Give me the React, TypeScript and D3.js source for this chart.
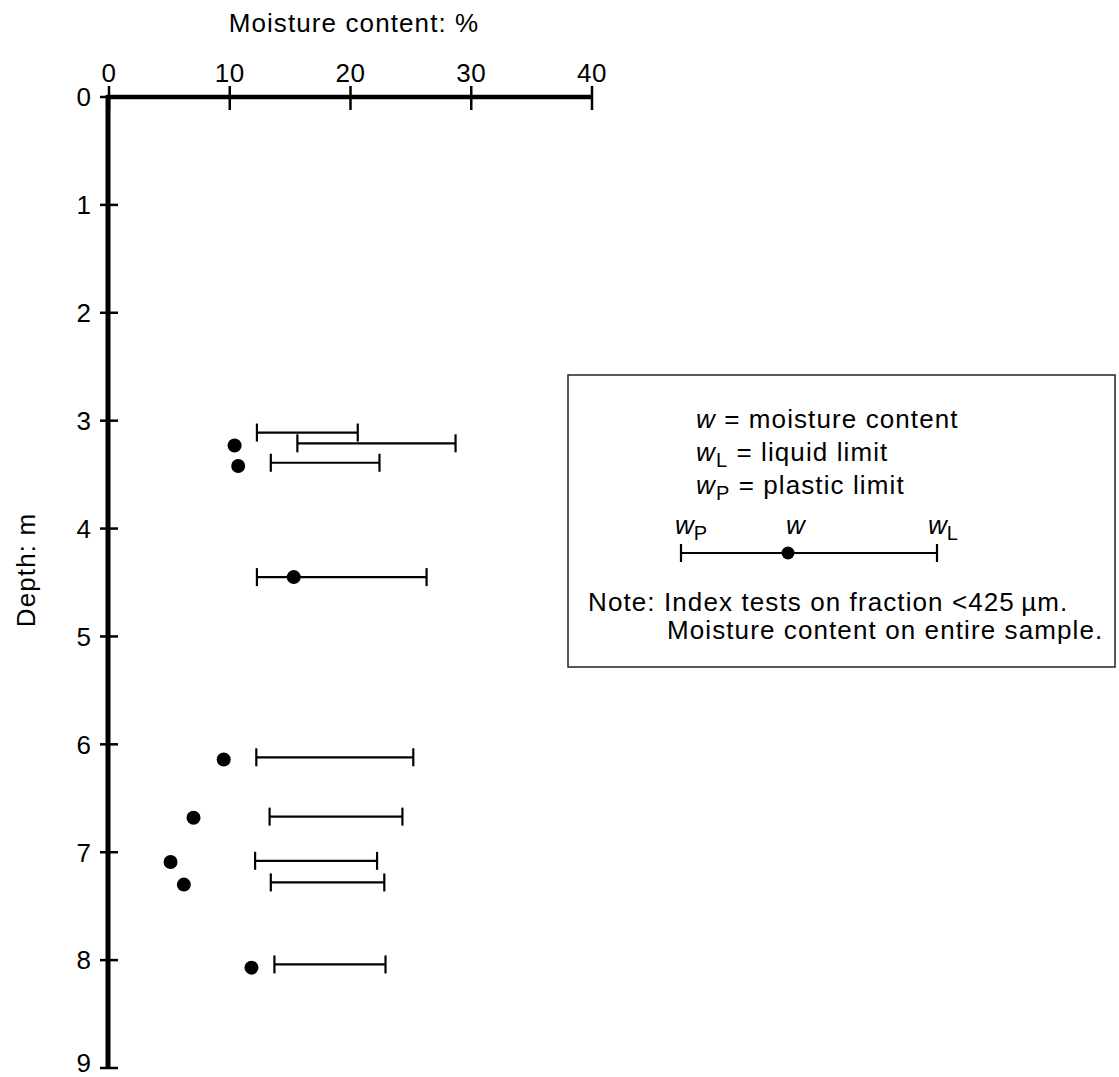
import React, { useEffect, useRef } from 'react';
import * as d3 from 'd3';

// axis ticks
const moistureTicks = [0, 10, 20, 30, 40];
const depthTicks = [0, 1, 2, 3, 4, 5, 6, 7, 8, 9];

// moisture content w (%) at sample depths (m)
const sampleDepths = [3.23, 3.42, 4.45, 6.14, 6.68, 7.09, 7.30, 8.07];
const moistureContent = [10.4, 10.7, 15.3, 9.5, 7.0, 5.1, 6.2, 11.8];

// plastic limit wP and liquid limit wL (%) at test depths (m)
const limitDepths = [3.11, 3.21, 3.39, 4.45, 6.12, 6.67, 7.08, 7.28, 8.04];
const plasticLimit = [12.25, 15.6, 13.4, 12.25, 12.2, 13.3, 12.1, 13.4, 13.7];
const liquidLimit = [20.6, 28.7, 22.4, 26.3, 25.2, 24.3, 22.2, 22.8, 22.9];

const FONT = '"Liberation Sans", Arial, Helvetica, sans-serif';

export default function App() {
  const ref = useRef<SVGSVGElement>(null);

  useEffect(() => {
    const svg = d3.select(ref.current);
    svg.selectAll('*').remove();

    const x = d3.scaleLinear().domain([0, 40]).range([109, 592]);
    const y = d3.scaleLinear().domain([0, 9]).range([97, 1068]);

    const g = svg.append('g').attr('font-family', FONT).attr('fill', '#000');

    // title on top
    g.append('text')
      .attr('x', 354).attr('y', 32)
      .attr('text-anchor', 'middle')
      .attr('font-size', 26).attr('letter-spacing', 1.1)
      .text('Moisture content: %');

    // y label
    g.append('text')
      .attr('transform', 'translate(35,570) rotate(-90)')
      .attr('text-anchor', 'middle')
      .attr('font-size', 26).attr('letter-spacing', 1.1)
      .text('Depth: m');

    // top axis (moisture)
    g.append('line')
      .attr('x1', x(0) - 2).attr('x2', x(40) + 1)
      .attr('y1', y(0)).attr('y2', y(0))
      .attr('stroke', '#000').attr('stroke-width', 4.5);
    g.selectAll('.xtick').data(moistureTicks).join('line')
      .attr('class', 'xtick')
      .attr('x1', d => x(d)).attr('x2', d => x(d))
      .attr('y1', y(0) - 11).attr('y2', y(0) + 13)
      .attr('stroke', '#000').attr('stroke-width', 2.5);
    g.selectAll('.xlab').data(moistureTicks).join('text')
      .attr('class', 'xlab')
      .attr('x', d => x(d)).attr('y', 82)
      .attr('text-anchor', 'middle')
      .attr('font-size', 26).attr('letter-spacing', 0.6)
      .text(d => d);

    // left axis (depth)
    g.append('line')
      .attr('x1', x(0) - 1).attr('x2', x(0) - 1)
      .attr('y1', y(0) - 2).attr('y2', y(9))
      .attr('stroke', '#000').attr('stroke-width', 5);
    g.selectAll('.ytick').data(depthTicks).join('line')
      .attr('class', 'ytick')
      .attr('x1', x(0) - 9).attr('x2', x(0) + 9)
      .attr('y1', d => y(d)).attr('y2', d => y(d))
      .attr('stroke', '#000').attr('stroke-width', 2.5);
    g.selectAll('.ylab').data(depthTicks).join('text')
      .attr('class', 'ylab')
      .attr('x', 91).attr('y', d => y(d) - (d === 9 ? 5 : 0))
      .attr('dy', '0.36em')
      .attr('text-anchor', 'end')
      .attr('font-size', 26)
      .text(d => d);

    // limit ranges wP - wL
    const limits = limitDepths.map((d, i) => ({ d, wp: plasticLimit[i], wl: liquidLimit[i] }));
    const bars = g.selectAll('.limit').data(limits).join('g').attr('class', 'limit')
      .attr('stroke', '#000').attr('stroke-width', 2.2);
    bars.append('line')
      .attr('x1', d => x(d.wp)).attr('x2', d => x(d.wl))
      .attr('y1', d => y(d.d)).attr('y2', d => y(d.d));
    bars.append('line')
      .attr('x1', d => x(d.wp)).attr('x2', d => x(d.wp))
      .attr('y1', d => y(d.d) - 9).attr('y2', d => y(d.d) + 9);
    bars.append('line')
      .attr('x1', d => x(d.wl)).attr('x2', d => x(d.wl))
      .attr('y1', d => y(d.d) - 9).attr('y2', d => y(d.d) + 9);

    // moisture content dots
    g.selectAll('.dot').data(sampleDepths).join('circle')
      .attr('class', 'dot')
      .attr('cx', (d, i) => x(moistureContent[i]))
      .attr('cy', d => y(d))
      .attr('r', 7)
      .attr('fill', '#000');

    // key box
    const key = g.append('g');
    key.append('rect')
      .attr('x', 568).attr('y', 375).attr('width', 547).attr('height', 292)
      .attr('fill', 'none').attr('stroke', '#222').attr('stroke-width', 1.5);

    const keyLines = [
      { sub: '', text: ' = moisture content', y: 428 },
      { sub: 'L', text: ' = liquid limit', y: 461 },
      { sub: 'P', text: ' = plastic limit', y: 494 }
    ];
    keyLines.forEach(k => {
      const t = key.append('text')
        .attr('x', 696).attr('y', k.y)
        .attr('font-size', 26).attr('letter-spacing', 1.1);
      t.append('tspan').attr('font-style', 'italic').text('w');
      if (k.sub) {
        t.append('tspan').attr('font-size', 20).attr('dy', 6).text(k.sub);
        t.append('tspan').attr('dy', -6).text(k.text);
      } else {
        t.append('tspan').text(k.text);
      }
    });

    // key sample range
    const ky = 553;
    key.append('line').attr('x1', 681).attr('x2', 937).attr('y1', ky).attr('y2', ky)
      .attr('stroke', '#000').attr('stroke-width', 2.2);
    [681, 937].forEach(px => {
      key.append('line').attr('x1', px).attr('x2', px).attr('y1', ky - 9).attr('y2', ky + 9)
        .attr('stroke', '#000').attr('stroke-width', 2.2);
    });
    key.append('circle').attr('cx', 788).attr('cy', ky).attr('r', 6.5).attr('fill', '#000');

    const keyLabels = [
      { x: 675, sub: 'P' },
      { x: 786, sub: '' },
      { x: 928, sub: 'L' }
    ];
    keyLabels.forEach(k => {
      const t = key.append('text').attr('x', k.x).attr('y', 534).attr('font-size', 26);
      t.append('tspan').attr('font-style', 'italic').text('w');
      if (k.sub) t.append('tspan').attr('font-size', 20).attr('dy', 6).text(k.sub);
    });

    key.append('text')
      .attr('x', 588).attr('y', 611)
      .attr('font-size', 26).attr('letter-spacing', 1.1)
      .text('Note: Index tests on fraction <425\u2009\u00b5m.');
    key.append('text')
      .attr('x', 667).attr('y', 639)
      .attr('font-size', 26).attr('letter-spacing', 1.1)
      .text('Moisture content on entire sample.');
  }, []);

  return (
    <svg
      ref={ref}
      width={1119}
      height={1077}
      style={{ position: 'absolute', left: 0, top: 0, background: '#fff' }}
    />
  );
}
